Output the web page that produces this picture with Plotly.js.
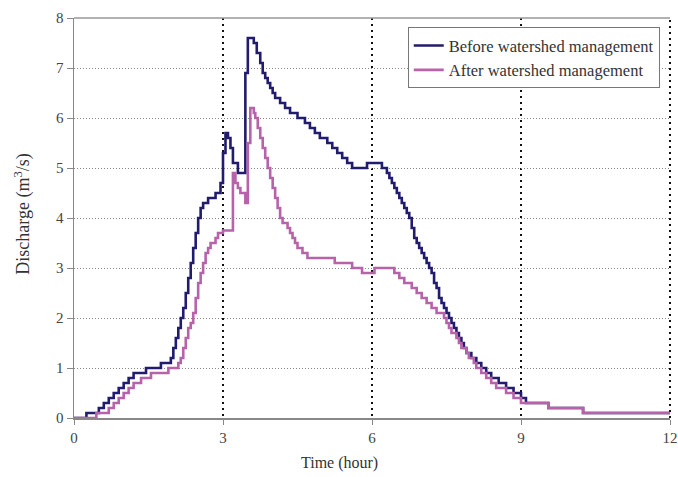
<!DOCTYPE html>
<html><head><meta charset="utf-8">
<script src="https://cdn.plot.ly/plotly-3.0.1.min.js"></script>
<style>html,body{margin:0;padding:0;background:#fff}#chart{width:678px;height:477px}</style>
</head><body><div id="chart"></div>
<script>
const beforeTime = [0,0.25,0.5,0.6,0.7,0.8,0.9,1.0,1.1,1.2,1.45,1.75,1.95,2.0,2.05,2.1,2.15,2.2,2.25,2.3,2.35,2.4,2.45,2.5,2.55,2.6,2.7,2.85,2.95,3.0,3.05,3.1,3.15,3.2,3.3,3.45,3.5,3.62,3.68,3.75,3.8,3.85,3.9,3.95,4.0,4.05,4.15,4.25,4.35,4.5,4.65,4.75,4.85,4.95,5.1,5.2,5.3,5.4,5.5,5.6,5.9,6.2,6.3,6.35,6.4,6.45,6.5,6.55,6.6,6.65,6.7,6.75,6.8,6.85,6.9,6.95,7.0,7.05,7.1,7.15,7.2,7.25,7.3,7.35,7.4,7.45,7.5,7.55,7.6,7.65,7.7,7.75,7.8,7.85,7.9,8.0,8.1,8.2,8.3,8.4,8.55,8.7,8.85,9.0,9.1,9.55,10.25,12];
const beforeQ = [0,0.1,0.2,0.3,0.4,0.5,0.6,0.7,0.8,0.9,1.0,1.1,1.2,1.4,1.6,1.8,2.0,2.2,2.5,2.8,3.1,3.4,3.7,4.0,4.2,4.3,4.4,4.5,4.7,5.3,5.7,5.6,5.4,5.1,4.9,6.9,7.6,7.5,7.3,7.1,6.9,6.8,6.7,6.6,6.5,6.4,6.3,6.2,6.1,6.0,5.9,5.8,5.7,5.6,5.5,5.4,5.3,5.2,5.1,5.0,5.1,5.0,4.9,4.8,4.7,4.6,4.5,4.4,4.3,4.2,4.1,4.0,3.8,3.6,3.5,3.4,3.3,3.2,3.1,3.0,2.9,2.7,2.6,2.4,2.3,2.2,2.1,2.0,1.9,1.8,1.7,1.6,1.5,1.4,1.3,1.2,1.1,1.0,0.9,0.8,0.7,0.6,0.5,0.4,0.3,0.2,0.1,0.1];
const afterTime = [0,0.45,0.7,0.8,0.9,1.0,1.1,1.2,1.35,1.55,1.9,2.1,2.15,2.2,2.25,2.3,2.35,2.4,2.45,2.5,2.55,2.6,2.65,2.7,2.75,2.85,2.9,3.0,3.2,3.25,3.3,3.35,3.45,3.5,3.55,3.62,3.65,3.7,3.75,3.8,3.85,3.9,3.95,4.0,4.05,4.1,4.15,4.2,4.3,4.35,4.4,4.45,4.5,4.6,4.7,5.25,5.6,5.8,6.05,6.45,6.55,6.65,6.8,6.9,7.0,7.1,7.2,7.3,7.45,7.5,7.55,7.6,7.7,7.75,7.8,7.9,7.95,8.05,8.1,8.2,8.3,8.4,8.5,8.7,8.85,9.0,9.55,10.25,12];
const afterQ = [0,0.1,0.2,0.3,0.4,0.5,0.6,0.7,0.8,0.9,1.0,1.1,1.2,1.4,1.6,1.8,1.9,2.1,2.4,2.7,2.9,3.1,3.3,3.4,3.5,3.6,3.7,3.75,4.9,4.7,4.6,4.5,4.3,5.5,6.2,6.1,6.0,5.8,5.6,5.4,5.2,5.0,4.8,4.6,4.4,4.2,4.0,3.9,3.8,3.7,3.6,3.5,3.4,3.3,3.2,3.1,3.0,2.9,3.0,2.9,2.8,2.7,2.6,2.5,2.4,2.3,2.2,2.1,2.0,1.9,1.8,1.7,1.6,1.5,1.4,1.3,1.2,1.1,1.0,0.9,0.8,0.7,0.6,0.5,0.4,0.3,0.2,0.1,0.1];
const seriesNames = ["Before watershed management","After watershed management"];
const xTicks = [0,3,6,9,12];
const yTicks = [0,1,2,3,4,5,6,7,8];
const xTitle = "Time (hour)";
const yTitle = "Discharge (m<sup>3</sup>/s)";

const fam = "Liberation Serif, Times New Roman, serif";
const traces = [
  {x:beforeTime, y:beforeQ, name:seriesNames[0], mode:"lines", line:{shape:"hv", color:"#221c6e", width:2.6}},
  {x:afterTime, y:afterQ, name:seriesNames[1], mode:"lines", line:{shape:"hv", color:"#b763aa", width:2.6}}
];
const layout = {
  width:678, height:477,
  margin:{l:74, r:8, t:18, b:59},
  paper_bgcolor:"#fff", plot_bgcolor:"#fff",
  font:{family:fam, size:15, color:"#333"},
  showlegend:true,
  legend:{x:0.56, y:0.977, xanchor:"left", yanchor:"top", bgcolor:"#fff", bordercolor:"#777", borderwidth:1,
    font:{family:fam, size:16.5, color:"#333"}, tracegroupgap:0, itemwidth:30},
  xaxis:{range:[0,12], tickvals:xTicks, ticktext:xTicks.map(String), showgrid:true, gridcolor:"#111", griddash:"2px,4px", gridwidth:2,
    showline:true, linecolor:"#888", linewidth:1.5, ticks:"outside", ticklen:5, tickcolor:"#888", zeroline:false,
    tickfont:{family:fam,size:15,color:"#444"}},
  yaxis:{range:[0,8], tickvals:yTicks, showgrid:true, gridcolor:"#888", griddash:"1px,2px", gridwidth:1,
    showline:true, linecolor:"#888", linewidth:1.5, ticks:"outside", ticklen:6, tickcolor:"#888", zeroline:false,
    tickfont:{family:fam,size:15,color:"#444"}},
  annotations:[
    {text:xTitle, xref:"paper", yref:"paper", x:0.445, y:-0.113, xanchor:"center", yanchor:"middle", showarrow:false, font:{family:fam,size:16,color:"#333"}},
    {text:yTitle, xref:"paper", yref:"paper", x:-0.086, y:0.51, xanchor:"center", yanchor:"middle", textangle:-90, showarrow:false, font:{family:fam,size:18,color:"#333"}}
  ],
  shapes:[
    {type:"line", xref:"paper", yref:"paper", x0:0, x1:1, y0:1, y1:1, line:{color:"#999", width:1.5}},
    {type:"line", xref:"paper", yref:"paper", x0:1, x1:1, y0:0, y1:1, line:{color:"#111", width:2, dash:"2px,4px"}}
  ]
};
Plotly.newPlot("chart", traces, layout, {displayModeBar:false, staticPlot:true});
</script></body></html>
